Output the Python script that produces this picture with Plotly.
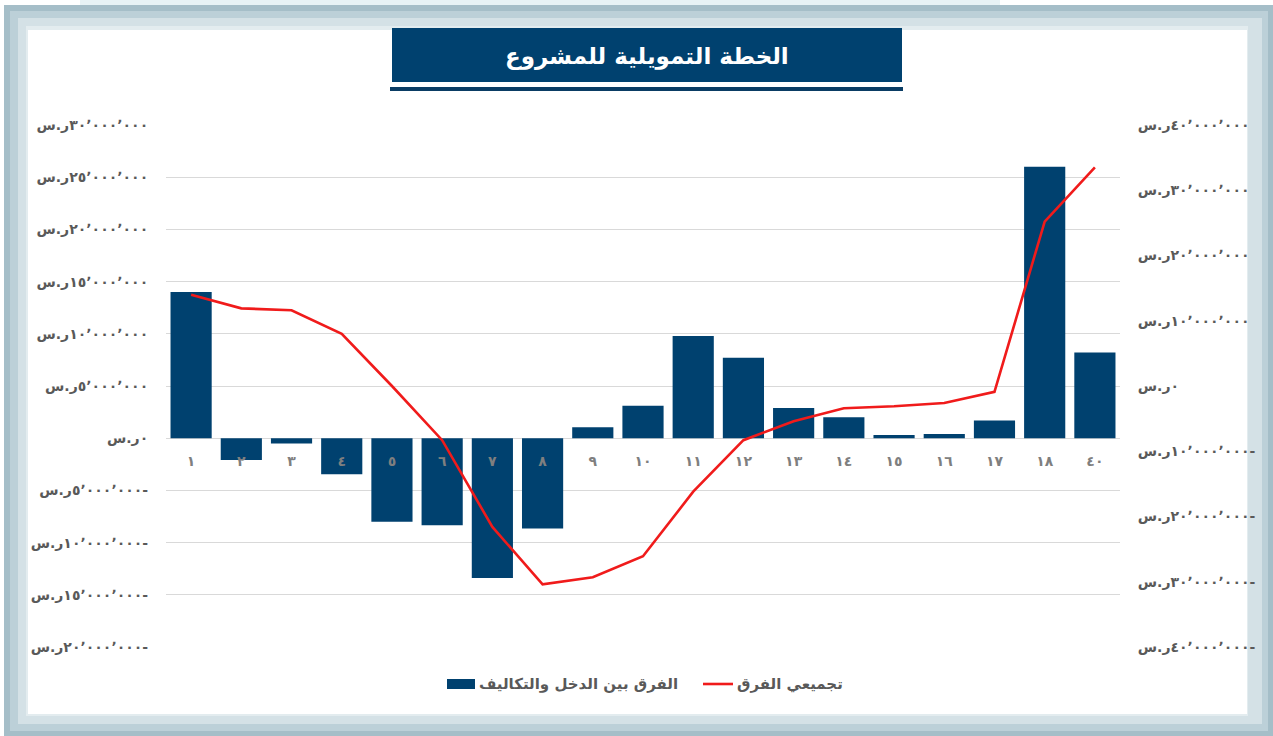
import plotly.graph_objects as go

# ---- data -------------------------------------------------------------
periods = ["١", "٢", "٣", "٤", "٥", "٦", "٧", "٨", "٩", "١٠",
           "١١", "١٢", "١٣", "١٤", "١٥", "١٦", "١٧", "١٨", "٤٠"]

# income minus costs for each period (SAR)
net_difference = [14.0e6, -2.1e6, -0.5e6, -3.45e6, -8.0e6, -8.35e6, -13.4e6,
                  -8.65e6, 1.05e6, 3.1e6, 9.8e6, 7.7e6, 2.9e6, 2.0e6, 0.3e6,
                  0.4e6, 1.7e6, 26.0e6, 8.2e6]

# running total of the difference (SAR, right axis)
cumulative_difference = [14.0e6, 11.9e6, 11.6e6, 8.0e6, 0.0, -8.3e6, -21.6e6,
                         -30.4e6, -29.3e6, -26.1e6, -16.2e6, -8.3e6, -5.4e6,
                         -3.4e6, -3.1e6, -2.6e6, -0.9e6, 25.2e6, 33.5e6]

left_tickvals = [30e6, 25e6, 20e6, 15e6, 10e6, 5e6, 0,
                 -5e6, -10e6, -15e6, -20e6]
left_ticklabels = ["س.ر٣٠٬٠٠٠٬٠٠٠", "س.ر٢٥٬٠٠٠٬٠٠٠", "س.ر٢٠٬٠٠٠٬٠٠٠",
                   "س.ر١٥٬٠٠٠٬٠٠٠", "س.ر١٠٬٠٠٠٬٠٠٠", "س.ر٥٬٠٠٠٬٠٠٠",
                   "س.ر٠", "س.ر٥٬٠٠٠٬٠٠٠-", "س.ر١٠٬٠٠٠٬٠٠٠-",
                   "س.ر١٥٬٠٠٠٬٠٠٠-", "س.ر٢٠٬٠٠٠٬٠٠٠-"]

right_tickvals = [40e6, 30e6, 20e6, 10e6, 0, -10e6, -20e6, -30e6, -40e6]
right_ticklabels = ["س.ر٤٠٬٠٠٠٬٠٠٠", "س.ر٣٠٬٠٠٠٬٠٠٠", "س.ر٢٠٬٠٠٠٬٠٠٠",
                    "س.ر١٠٬٠٠٠٬٠٠٠", "س.ر٠", "س.ر١٠٬٠٠٠٬٠٠٠-",
                    "س.ر٢٠٬٠٠٠٬٠٠٠-", "س.ر٣٠٬٠٠٠٬٠٠٠-", "س.ر٤٠٬٠٠٠٬٠٠٠-"]

title_text = "الخطة التمويلية للمشروع"
bar_name = "الفرق بين الدخل والتكاليف"
line_name = "تجميعي الفرق"

# ---- styling ----------------------------------------------------------
W, H = 1273, 736
PL, PR, PT, PB = 166, 1120, 125, 647       # plot area in pixels
NAVY = "#00416f"
RED = "#f01b1b"
GREY = "#595959"
FONT = "DejaVu Sans"

# force left-to-right glyph order for the currency labels
LRO, PDF = "\u202d", "\u202c"


def visual(s):
    return LRO + s + PDF


def px(x):
    return (x - PL) / (PR - PL)


def py(y):
    return (PB - y) / (PB - PT)


fig = go.Figure()

fig.add_trace(go.Bar(
    x=periods, y=net_difference, name=bar_name,
    marker=dict(color=NAVY, line=dict(width=0)),
    showlegend=False,
))
fig.add_trace(go.Scatter(
    x=periods, y=cumulative_difference, name=line_name, yaxis="y2",
    mode="lines", line=dict(color=RED, width=2.6),
    showlegend=False,
))

shapes = []


def rect(x0, y0, x1, y1, color, layer="below"):
    shapes.append(dict(type="rect", xref="paper", yref="paper",
                       x0=px(x0), x1=px(x1), y0=py(y1), y1=py(y0),
                       fillcolor=color, line=dict(width=0), layer=layer))


# card frame
rect(80, 0, 1000, 6, "#e7f2f5")
rect(4, 5, 1273, 736, "#a5bec8")
rect(10, 11, 1268, 731, "#bcd0d8")
rect(18, 18, 1262, 724, "#d4e1e6")
rect(26, 26, 1248, 716, "#e3ecef")
rect(28, 30, 1247, 714, "#ffffff")

# title banner
rect(392, 28, 902, 82, NAVY, layer="above")
rect(390, 87, 903, 91, "#0a3c64", layer="above")

# legend symbols
rect(447, 679, 475, 689, NAVY, layer="above")
shapes.append(dict(type="line", xref="paper", yref="paper",
                   x0=px(703), x1=px(733), y0=py(684), y1=py(684),
                   line=dict(color=RED, width=2.6), layer="above"))

annotations = [
    dict(text=title_text, xref="paper", yref="paper", x=px(647), y=py(56),
         showarrow=False, xanchor="center", yanchor="middle",
         font=dict(family=FONT, size=23, color="white", weight="bold")),
    dict(text=bar_name, xref="paper", yref="paper", x=px(477), y=py(684),
         showarrow=False, xanchor="left", yanchor="middle",
         font=dict(family=FONT, size=15, color=GREY, weight="bold")),
    dict(text=line_name, xref="paper", yref="paper", x=px(735), y=py(684),
         showarrow=False, xanchor="left", yanchor="middle",
         font=dict(family=FONT, size=15, color=GREY, weight="bold")),
]

tick_font = dict(family=FONT, size=14, color=GREY, weight="bold")

fig.update_layout(
    width=W, height=H,
    margin=dict(l=PL, r=W - PR, t=PT, b=H - PB, pad=0),
    paper_bgcolor="white",
    plot_bgcolor="rgba(0,0,0,0)",
    bargap=0.18,
    showlegend=False,
    shapes=shapes,
    annotations=annotations,
    xaxis=dict(
        type="category", range=[-0.5, len(periods) - 0.5],
        anchor="free", position=py(437),
        showgrid=False, zeroline=False, showline=False,
        ticks="outside", ticklen=11, tickcolor="rgba(0,0,0,0)",
        tickfont=dict(family=FONT, size=14, color="#7f7f7f", weight="bold"),
    ),
    yaxis=dict(
        range=[-20e6, 30e6],
        tickvals=left_tickvals,
        ticktext=[visual(t) for t in left_ticklabels],
        showgrid=True, gridcolor="#d9d9d9", gridwidth=1,
        zeroline=False, showline=False,
        ticks="outside", ticklen=14, tickcolor="rgba(0,0,0,0)",
        tickfont=tick_font,
    ),
    yaxis2=dict(
        range=[-40e6, 40e6], overlaying="y", side="right",
        tickvals=right_tickvals,
        ticktext=[visual(t) for t in right_ticklabels],
        showgrid=False, zeroline=False, showline=False,
        ticks="outside", ticklen=14, tickcolor="rgba(0,0,0,0)",
        tickfont=tick_font,
    ),
)

fig.write_html("out.html")
